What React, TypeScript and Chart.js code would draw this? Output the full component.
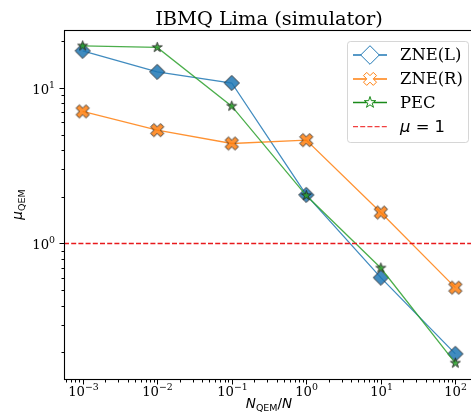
import React, { useEffect, useRef } from "react";
import { Chart, registerables } from "chart.js";

Chart.register(...registerables);

// ---- data ----
const xValues = [1e-3, 1e-2, 1e-1, 1, 10, 100];
const zneL = [17.2, 12.6, 10.7, 2.05, 0.604, 0.196];
const zneR = [7.03, 5.33, 4.38, 4.6, 1.58, 0.521];
const pec = [18.5, 18.1, 7.6, 2.03, 0.696, 0.171];
const refLevel = 1;
const seriesNames = ["ZNE(L)", "ZNE(R)", "PEC"];
const titleText = "IBMQ Lima (simulator)";
const xMin = 5.62e-4;
const xMax = 177.8;
const yMin = 0.1352;
const yMax = 23.4;

function isDecade(v: number) {
  const l = Math.log10(v);
  return Math.abs(l - Math.round(l)) < 1e-9;
}
function decadeExp(v: number) {
  const e = Math.round(Math.log10(v));
  return (e < 0 ? "\u2212" : "") + String(Math.abs(e));
}
function logTicks(min: number, max: number) {
  const out: number[] = [];
  for (let e = Math.floor(Math.log10(min)); e <= Math.ceil(Math.log10(max)); e++) {
    for (let m = 1; m <= 9; m++) {
      const v = m * Math.pow(10, e);
      if (v >= min * 0.9999 && v <= max * 1.0001) out.push(v);
    }
  }
  return out;
}

const C0 = "#1f77b4";
const C1 = "#ff7f0e";
const C0a = "rgba(31,119,180,0.85)";
const C1a = "rgba(255,127,14,0.85)";
const C2a = "rgba(44,160,44,0.85)";
const EDGE = "rgba(35,35,35,0.85)";
const RED = "#e8191c";

type Ctx = CanvasRenderingContext2D;
function pathDiamond(ctx: Ctx, cx: number, cy: number, r: number) {
  ctx.beginPath();
  ctx.moveTo(cx, cy - r);
  ctx.lineTo(cx + r, cy);
  ctx.lineTo(cx, cy + r);
  ctx.lineTo(cx - r, cy);
  ctx.closePath();
}
function pathX(ctx: Ctx, cx: number, cy: number, s: number) {
  const pts = [[-1, -2], [0, -1], [1, -2], [2, -1], [1, 0], [2, 1], [1, 2], [0, 1], [-1, 2], [-2, 1], [-1, 0], [-2, -1]];
  ctx.beginPath();
  pts.forEach(([px, py], i) => {
    const x = cx + (px / 4) * s;
    const y = cy + (py / 4) * s;
    if (i === 0) ctx.moveTo(x, y);
    else ctx.lineTo(x, y);
  });
  ctx.closePath();
}
function pathStar(ctx: Ctx, cx: number, cy: number, r: number) {
  const ri = r * 0.381966;
  ctx.beginPath();
  for (let i = 0; i < 10; i++) {
    const a = -Math.PI / 2 + (i * Math.PI) / 5;
    const rr = i % 2 === 0 ? r : ri;
    const x = cx + rr * Math.cos(a);
    const y = cy + rr * Math.sin(a);
    if (i === 0) ctx.moveTo(x, y);
    else ctx.lineTo(x, y);
  }
  ctx.closePath();
}

function markerCanvas(kind: string, size: number, fill: string, edge: string) {
  const w = Math.ceil(size * 2 + 4);
  const c = document.createElement("canvas");
  c.width = w;
  c.height = w;
  const ctx = c.getContext("2d")!;
  const m = w / 2;
  if (kind === "D") pathDiamond(ctx, m, m, size);
  else if (kind === "X") pathX(ctx, m, m, size * 2);
  else pathStar(ctx, m, m, size);
  ctx.fillStyle = fill;
  ctx.fill();
  ctx.strokeStyle = edge;
  ctx.lineWidth = 1;
  ctx.stroke();
  return c;
}

type Seg = { t: string; font: string; dy: number };
function drawSegs(ctx: Ctx, segs: Seg[], x: number, y: number, align: "center" | "left" | "right") {
  let total = 0;
  segs.forEach((s) => {
    ctx.font = s.font;
    total += ctx.measureText(s.t).width;
  });
  let cx = align === "center" ? x - total / 2 : align === "right" ? x - total : x;
  ctx.textAlign = "left";
  segs.forEach((s) => {
    ctx.font = s.font;
    ctx.fillText(s.t, cx, y + s.dy);
    cx += ctx.measureText(s.t).width;
  });
}
function tickSegs(v: number): Seg[] {
  return [
    { t: "10", font: "13.2px 'DejaVu Serif'", dy: 0 },
    { t: decadeExp(v), font: "9.4px 'DejaVu Serif'", dy: -5.6 },
  ];
}

export default function App() {
  const ref = useRef<HTMLCanvasElement>(null);
  useEffect(() => {
    const canvas = ref.current!;
    const mD = markerCanvas("D", 7.6, C0a, EDGE);
    const mX = markerCanvas("X", 6.6, C1a, EDGE);
    const mS = markerCanvas("S", 5.2, C2a, EDGE);
    const xt = logTicks(xMin, xMax);
    const yt = logTicks(yMin, yMax);

    const decor = {
      id: "decor",
      afterDraw(chart: any) {
        const ctx: Ctx = chart.ctx;
        const a = chart.chartArea;
        const xs = chart.scales.x;
        const ys = chart.scales.y;
        ctx.save();
        ctx.setLineDash([]);
        // spines
        ctx.strokeStyle = "#000";
        ctx.lineWidth = 1.1;
        ctx.strokeRect(a.left + 0.5, a.top + 0.5, a.right - a.left, a.bottom - a.top);
        // ticks and tick labels
        ctx.lineWidth = 1;
        ctx.fillStyle = "#000";
        ctx.textBaseline = "alphabetic";
        xs.ticks.forEach((t: any) => {
          const px = Math.round(xs.getPixelForValue(t.value)) + 0.5;
          const major = isDecade(t.value);
          const len = major ? 5 : 3;
          ctx.beginPath();
          ctx.moveTo(px, a.bottom + 0.5);
          ctx.lineTo(px, a.bottom + 0.5 + len);
          ctx.stroke();
          if (major) drawSegs(ctx, tickSegs(t.value), px, a.bottom + 17, "center");
        });
        ys.ticks.forEach((t: any) => {
          const py = Math.round(ys.getPixelForValue(t.value)) + 0.5;
          const major = isDecade(t.value);
          const len = major ? 5 : 3;
          ctx.beginPath();
          ctx.moveTo(a.left + 0.5, py);
          ctx.lineTo(a.left + 0.5 - len, py);
          ctx.stroke();
          if (major) drawSegs(ctx, tickSegs(t.value), a.left - 9, py + 5.3, "right");
        });
        // title
        ctx.textAlign = "center";
        ctx.font = "19.4px 'DejaVu Serif'";
        ctx.fillText(titleText, (a.left + a.right) / 2, 25);
        // x label
        drawSegs(
          ctx,
          [
            { t: "N", font: "italic 13.5px 'DejaVu Sans'", dy: 0 },
            { t: "QEM", font: "9.5px 'DejaVu Sans'", dy: 2.5 },
            { t: "/", font: "13.5px 'DejaVu Sans'", dy: 0 },
            { t: "N", font: "italic 13.5px 'DejaVu Sans'", dy: 0 },
          ],
          (a.left + a.right) / 2,
          408,
          "center"
        );
        // y label
        ctx.save();
        ctx.translate(22, (a.top + a.bottom) / 2);
        ctx.rotate(-Math.PI / 2);
        drawSegs(
          ctx,
          [
            { t: "\u03BC", font: "italic 13.5px 'DejaVu Sans'", dy: 0 },
            { t: "QEM", font: "9.5px 'DejaVu Sans'", dy: 2.5 },
          ],
          0,
          0,
          "center"
        );
        ctx.restore();
        // legend
        const bx = 347.5, by = 41.5, bw = 121, bh = 101;
        ctx.beginPath();
        ctx.roundRect(bx, by, bw, bh, 3);
        ctx.fillStyle = "rgba(255,255,255,0.8)";
        ctx.fill();
        ctx.strokeStyle = "rgba(204,204,204,0.8)";
        ctx.lineWidth = 1;
        ctx.stroke();
        const rows = [55, 78.9, 102.5, 126.6];
        const hx0 = 353, hx1 = 387, hc = 370;
        const lineCols = [C0, C1, "#1a8a1a"];
        lineCols.forEach((col, i) => {
          const yy = rows[i];
          ctx.strokeStyle = col;
          ctx.lineWidth = 1.5;
          ctx.beginPath();
          ctx.moveTo(hx0, yy);
          ctx.lineTo(hx1, yy);
          ctx.stroke();
          if (i === 0) pathDiamond(ctx, hc, yy, 9.3);
          else if (i === 1) pathX(ctx, hc, yy, 13);
          else pathStar(ctx, hc, yy, 6);
          ctx.fillStyle = "#fff";
          ctx.fill();
          ctx.lineWidth = 1;
          ctx.stroke();
          ctx.fillStyle = "#000";
          ctx.textAlign = "left";
          ctx.textBaseline = "middle";
          ctx.font = "16.4px 'DejaVu Serif'";
          ctx.fillText(seriesNames[i], 400, yy + 1);
        });
        // mu = 1 entry
        ctx.strokeStyle = "rgba(238,30,30,0.85)";
        ctx.lineWidth = 1.3;
        ctx.setLineDash([5, 2.2]);
        ctx.beginPath();
        ctx.moveTo(hx0, rows[3]);
        ctx.lineTo(hx1, rows[3]);
        ctx.stroke();
        ctx.setLineDash([]);
        ctx.fillStyle = "#000";
        ctx.textBaseline = "middle";
        drawSegs(
          ctx,
          [
            { t: "\u03BC", font: "italic 16.4px 'DejaVu Sans'", dy: 0 },
            { t: " = 1", font: "16.4px 'DejaVu Sans'", dy: 0 },
          ],
          400,
          rows[3] + 1,
          "left"
        );
        ctx.restore();
      },
    };

    const pts = (arr: number[]) => xValues.map((x, i) => ({ x, y: arr[i] }));

    const chart = new Chart(canvas, {
      type: "line",
      data: {
        datasets: [
          {
            label: seriesNames[0],
            data: pts(zneL),
            borderColor: C0a,
            backgroundColor: C0a,
            borderWidth: 1.3,
            pointStyle: mD as any,
            pointRadius: 6,
            order: 3,
          },
          {
            label: seriesNames[1],
            data: pts(zneR),
            borderColor: C1a,
            backgroundColor: C1a,
            borderWidth: 1.3,
            pointStyle: mX as any,
            pointRadius: 6,
            order: 2,
          },
          {
            label: seriesNames[2],
            data: pts(pec),
            borderColor: C2a,
            backgroundColor: C2a,
            borderWidth: 1.3,
            pointStyle: mS as any,
            pointRadius: 6,
            order: 1,
          },
          {
            label: "mu = 1",
            data: [
              { x: xMin, y: refLevel },
              { x: xMax, y: refLevel },
            ],
            borderColor: RED,
            backgroundColor: RED,
            borderWidth: 1.3,
            borderDash: [5, 2.2],
            pointRadius: 0,
            order: 0,
          },
        ],
      },
      options: {
        responsive: false,
        animation: false,
        events: [],
        layout: { padding: { top: 30, right: 16, left: 0, bottom: 0 } },
        plugins: {
          legend: { display: false },
          title: { display: false },
          tooltip: { enabled: false },
        },
        scales: {
          x: {
            type: "logarithmic",
            min: xMin,
            max: xMax,
            afterBuildTicks: (s: any) => {
              s.ticks = xt.map((v) => ({ value: v, major: isDecade(v) }));
            },
            afterFit: (s: any) => {
              s.height = 37;
            },
            grid: { display: false },
            border: { display: false },
            ticks: { display: false, autoSkip: false },
          },
          y: {
            type: "logarithmic",
            min: yMin,
            max: yMax,
            afterBuildTicks: (s: any) => {
              s.ticks = yt.map((v) => ({ value: v, major: isDecade(v) }));
            },
            afterFit: (s: any) => {
              s.width = 64;
            },
            grid: { display: false },
            border: { display: false },
            ticks: { display: false, autoSkip: false },
          },
        },
      },
      plugins: [decor],
    });
    return () => chart.destroy();
  }, []);

  return (
    <div style={{ position: "fixed", left: 0, top: 0, width: 471, height: 416, overflow: "hidden", background: "#fff" }}>
      <canvas ref={ref} width={490} height={416} style={{ display: "block", width: 490, height: 416 }} />
    </div>
  );
}
